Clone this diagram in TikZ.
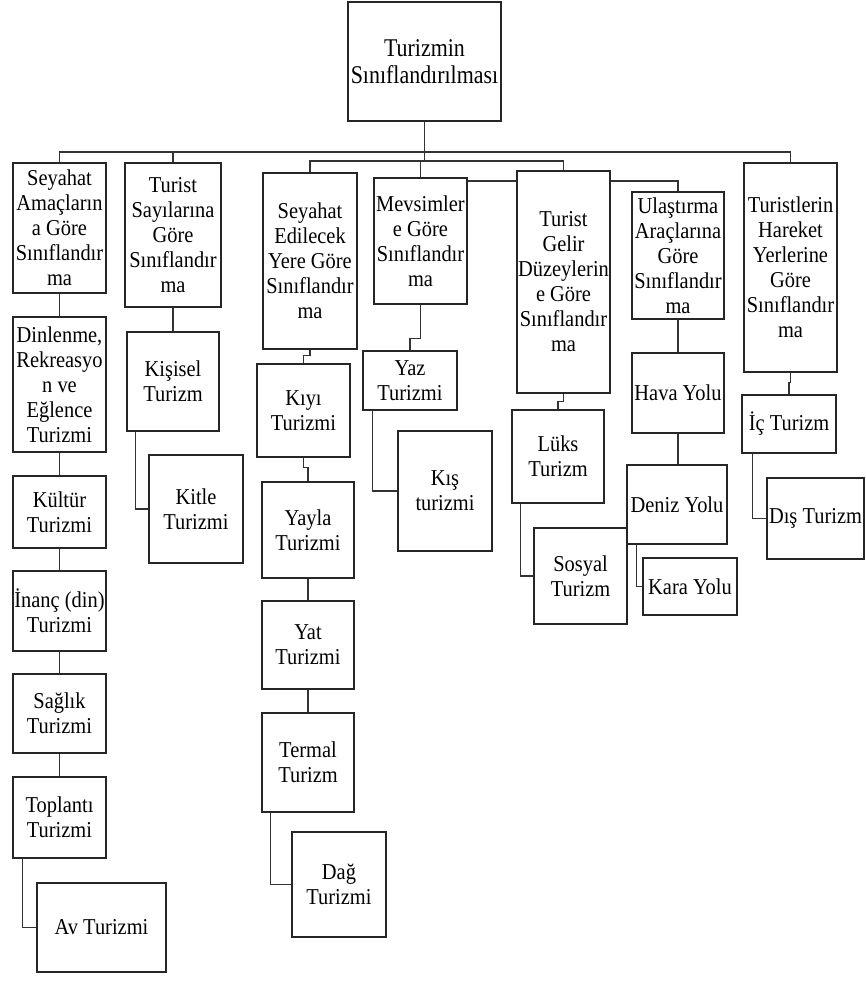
\documentclass[tikz,border=0pt]{standalone}
\usepackage{fontspec}
\setmainfont{Liberation Serif}[FakeStretch=0.9]
\newfontfamily\rootfont{Liberation Serif}[FakeStretch=0.86]
\usetikzlibrary{calc}
\tikzset{
  box/.style={draw=black!85, line width=1.4pt, inner sep=0pt, align=center,
              font=\fontsize{22.7}{25}\selectfont},
  link/.style={draw=black!80, line width=1.4pt},
}
\begin{document}
\begin{tikzpicture}[x=1pt,y=-1pt]
\useasboundingbox (0,0) rectangle (865,984);
% root
\node[box, minimum width=153pt, minimum height=119pt, font=\rootfont\fontsize{25.5}{27}\selectfont] (root) at (424.5,61.5) {Turizmin\\Sınıflandırılması};
% column A
\node[box, minimum width=93pt, minimum height=130pt] (A) at (59.5,228) {Seyahat\\Amaçların\\a Göre\\Sınıflandır\\ma};
\node[box, minimum width=93pt, minimum height=135pt] (A1) at (59.5,384.5) {Dinlenme,\\Rekreasyo\\n ve\\Eğlence\\Turizmi};
\node[box, minimum width=93pt, minimum height=72pt] (A2) at (59.5,512) {Kültür\\Turizmi};
\node[box, minimum width=93pt, minimum height=80pt] (A3) at (59.5,611) {İnanç (din)\\Turizmi};
\node[box, minimum width=93pt, minimum height=79pt] (A4) at (59.5,713.5) {Sağlık\\Turizmi};
\node[box, minimum width=93pt, minimum height=81pt] (A5) at (59.5,817.5) {Toplantı\\Turizmi};
\node[box, minimum width=129pt, minimum height=89pt] (A6) at (101.5,927.5) {Av Turizmi};
% column B
\node[box, minimum width=96pt, minimum height=144pt] (B) at (173,235) {Turist\\Sayılarına\\Göre\\Sınıflandır\\ma};
\node[box, minimum width=92pt, minimum height=99pt] (B1) at (173,381.5) {Kişisel\\Turizm};
\node[box, minimum width=94pt, minimum height=108pt] (B2) at (196,509) {Kitle\\Turizmi};
% column C
\node[box, minimum width=94pt, minimum height=176pt] (C) at (310,261) {Seyahat\\Edilecek\\Yere Göre\\Sınıflandır\\ma};
\node[box, minimum width=93pt, minimum height=93pt] (C1) at (303.5,410.5) {Kıyı\\Turizmi};
\node[box, minimum width=92pt, minimum height=96pt] (C2) at (308,530) {Yayla\\Turizmi};
\node[box, minimum width=92pt, minimum height=88pt] (C3) at (308,645) {Yat\\Turizmi};
\node[box, minimum width=92pt, minimum height=99pt] (C4) at (308,762.5) {Termal\\Turizm};
\node[box, minimum width=94pt, minimum height=105pt] (C5) at (339,884.5) {Dağ\\Turizmi};
% column D
\node[box, minimum width=93pt, minimum height=126pt] (D) at (420.5,241) {Mevsimler\\e Göre\\Sınıflandır\\ma};
\node[box, minimum width=94pt, minimum height=59pt] (D1) at (410,380.5) {Yaz\\Turizmi};
\node[box, minimum width=94pt, minimum height=120pt] (D2) at (445,491) {Kış\\turizmi};
% column E
\node[box, minimum width=93pt, minimum height=222pt] (E) at (563.5,282) {Turist\\Gelir\\Düzeylerin\\e Göre\\Sınıflandır\\ma};
\node[box, minimum width=92pt, minimum height=93pt] (E1) at (558,456.5) {Lüks\\Turizm};
\node[box, minimum width=93pt, minimum height=96pt] (E2) at (580.5,576) {Sosyal\\Turizm};
% column F
\node[box, minimum width=92pt, minimum height=127pt] (F) at (678,255.5) {Ulaştırma\\Araçlarına\\Göre\\Sınıflandır\\ma};
\node[box, minimum width=92pt, minimum height=80pt] (F1) at (678,393) {Hava Yolu};
\node[box, minimum width=100pt, minimum height=79pt] (F2) at (677,504.5) {Deniz Yolu};
\node[box, minimum width=94pt, minimum height=57pt] (F3) at (690,586.5) {Kara Yolu};
% column G
\node[box, minimum width=93pt, minimum height=209pt] (G) at (790.5,267.5) {Turistlerin\\Hareket\\Yerlerine\\Göre\\Sınıflandır\\ma};
\node[box, minimum width=94pt, minimum height=58pt] (G1) at (789,424) {İç Turizm};
\node[box, minimum width=97pt, minimum height=81pt] (G2) at (815.5,518.5) {Dış Turizm};
% bus levels
\coordinate (bus1) at (0,152);
\coordinate (bus2) at (0,161);
\coordinate (bus3) at (0,181);
% top connectors
\draw[link] (root.south) -- (root.south |- bus2);
\draw[link] (A.north) |- (G.north |- bus1) -- (G.north);
\draw[link] (B.north) -- (B.north |- bus1);
\draw[link] (C.north) |- (E.north |- bus2) -- (E.north);
\draw[link] (D.north) -- (D.north |- bus2);
\draw[link] (D.east |- bus3) -- (E.west |- bus3);
\draw[link] (E.east |- bus3) -| (F.north);
% column A
\draw[link] (A) -- (A1);
\draw[link] (A1) -- (A2);
\draw[link] (A2) -- (A3);
\draw[link] (A3) -- (A4);
\draw[link] (A4) -- (A5);
\draw[link] ($(A5.south west)+(10,0)$) |- (A6.west);
% column B
\draw[link] (B) -- (B1);
\draw[link] ($(B1.south west)+(9,0)$) |- (B2.west);
% column C
\draw[link] (C.south) -- ++(0,6) -| (C1.north);
\draw[link] (C1.south) -- ++(0,10) -| (C2.north);
\draw[link] (C2) -- (C3);
\draw[link] (C3) -- (C4);
\draw[link] ($(C4.south west)+(9,0)$) |- (C5.west);
% column D
\draw[link] (D.south) -- ++(0,34) -| (D1.north);
\draw[link] ($(D1.south west)+(10,0)$) |- (D2.west);
% column E
\draw[link] (E.south) -- ++(0,8) -| (E1.north);
\draw[link] ($(E1.south west)+(9,0)$) |- (E2.west);
% column F
\draw[link] (F) -- (F1);
\draw[link] (F1.south) -- (F1.south |- F2.north);
\draw[link] ($(F2.south west)+(10,0)$) |- (F3.west);
% column G
\draw[link] (G.south) -- ++(0,10) -| (G1.north);
\draw[link] ($(G1.south west)+(11,0)$) |- (G2.west);
\end{tikzpicture}
\end{document}
